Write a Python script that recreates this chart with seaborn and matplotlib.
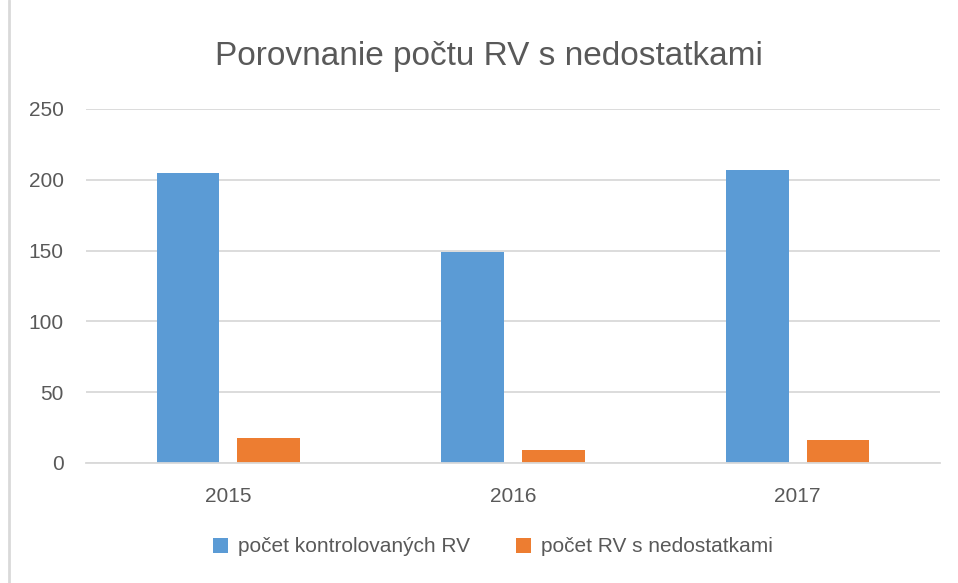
import pandas as pd
import matplotlib.pyplot as plt
import seaborn as sns
from matplotlib.lines import Line2D
from matplotlib.patches import Patch

# ===============================
# DATA
# ===============================
years = ["2015", "2016", "2017"]
checked = [205, 149, 207]
with_defects = [18, 9, 16]
series_names = ["počet kontrolovaných RV", "počet RV s nedostatkami"]
colors = ["#5B9BD5", "#ED7D31"]
y_ticks = [0, 50, 100, 150, 200, 250]

df = pd.DataFrame({
    "rok": years * 2,
    "pocet": checked + with_defects,
    "seria": [series_names[0]] * len(years) + [series_names[1]] * len(years),
})

# ===============================
# STYLE
# ===============================
sns.set_style("white")
plt.rcParams["font.family"] = ["Liberation Sans", "DejaVu Sans"]
text_gray = "#595959"
grid_gray = "#D9D9D9"

fig = plt.figure(figsize=(9.58, 5.83), dpi=100)
ax = fig.add_axes([86 / 958, 120 / 583, 854 / 958, 354 / 583])

sns.barplot(
    data=df, x="rok", y="pocet", hue="seria",
    palette=colors, saturation=1, width=0.567, gap=0.222,
    linewidth=0, ax=ax, legend=False,
)

ax.set_xlim(-0.5, 2.5)
ax.set_ylim(0, 250)
ax.set_yticks(y_ticks)
ax.set_axisbelow(True)
ax.yaxis.grid(True, color=grid_gray, linewidth=1.3)
ax.set_xlabel("")
ax.set_ylabel("")
for side in ["top", "right", "left"]:
    ax.spines[side].set_visible(False)
ax.spines["bottom"].set_color(grid_gray)
ax.spines["bottom"].set_linewidth(1.3)
ax.tick_params(axis="both", length=0, labelsize=15, labelcolor=text_gray)
ax.tick_params(axis="y", pad=16)
ax.tick_params(axis="x", pad=17)

# title
fig.text(489 / 958, 1 - 65 / 583, "Porovnanie počtu RV s nedostatkami",
         ha="center", va="baseline", fontsize=24, color=text_gray)

# legend
handles = [Patch(facecolor=c, edgecolor="none") for c in colors]
fig.legend(handles, series_names, loc="center", ncol=2,
           bbox_to_anchor=(493 / 958, 1 - 547 / 583), frameon=False,
           fontsize=15, labelcolor=text_gray, handlelength=0.7,
           handleheight=0.7, handletextpad=0.5, columnspacing=2.2)

# chart frame line on the left
fig.add_artist(Line2D([9 / 958, 9 / 958], [0, 1], color=grid_gray,
                      linewidth=2, transform=fig.transFigure))

plt.savefig("out.png", dpi=100)
plt.close()
